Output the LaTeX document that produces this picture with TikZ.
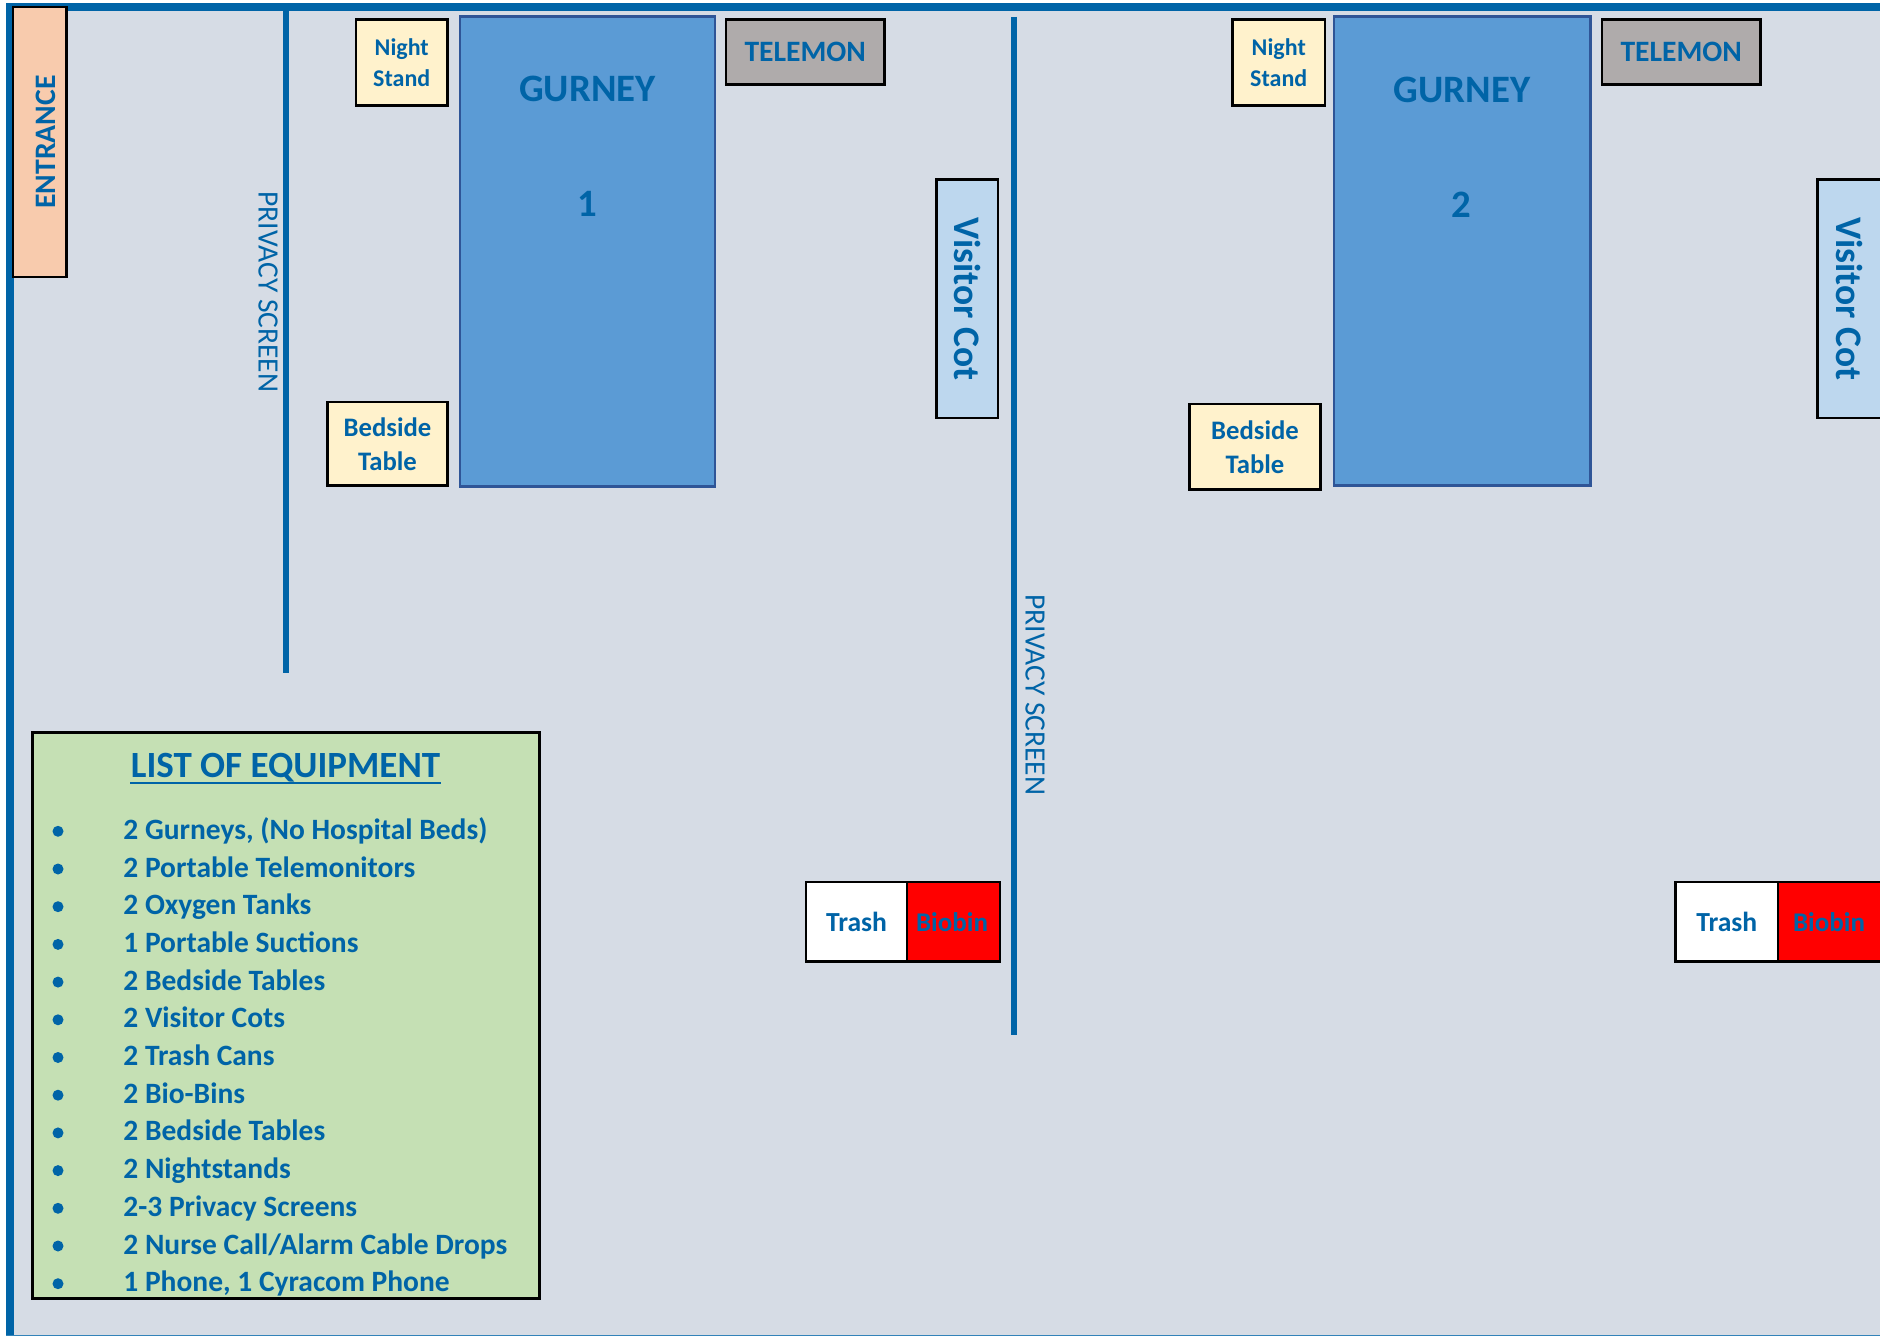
\documentclass[tikz,border=0pt]{standalone}
\usepackage{fontspec}
\setmainfont{Carlito}
\definecolor{wall}{HTML}{0064A7}
\definecolor{floorc}{HTML}{D6DCE5}
\definecolor{gurneyc}{HTML}{5B9BD5}
\definecolor{gurneyb}{HTML}{2F5597}
\definecolor{cotc}{HTML}{BDD7EE}
\definecolor{yellowc}{HTML}{FFF2CC}
\definecolor{greyc}{HTML}{AFABAB}
\definecolor{entc}{HTML}{F8CBAD}
\definecolor{listc}{HTML}{C5E0B4}
\newcommand{\pxfont}[2]{\fontsize{\dimexpr#1pt/2\relax}{\dimexpr#2pt/2\relax}\selectfont}
\newcommand{\rbox}[7]{%
  \pgfmathsetmacro{\cx}{(#2+#4)/2}\pgfmathsetmacro{\cy}{(#3+#5)/2}%
  \pgfmathsetmacro{\bw}{(#4-#2)*0.5}\pgfmathsetmacro{\bh}{(#5-#3)*0.5}%
  \node[#6,minimum width=\bw pt,minimum height=\bh pt] (#1) at (\cx,\cy) {#7};}
\tikzset{
  x=0.5pt,y=-0.5pt,
  base/.style={inner sep=0pt,outer sep=0pt,text=wall,font=\bfseries,align=center,rectangle},
  blk/.style={base,draw=black,line width=1.25pt},
  stand/.style={blk,fill=yellowc,font=\bfseries\pxfont{24}{31}},
  btable/.style={blk,fill=yellowc,font=\bfseries\pxfont{26.7}{34}},
  tele/.style={blk,fill=greyc,font=\bfseries\pxfont{29.6}{34}},
  cot/.style={blk,line width=1.1pt,fill=cotc,font=\bfseries\pxfont{37.5}{40}},
  gurney/.style={base,draw=gurneyb,line width=1.4pt,fill=gurneyc},
  glabel/.style={inner sep=0pt,text=wall,font=\bfseries\pxfont{38.8}{44}},
  trash/.style={blk,fill=white,font=\bfseries\pxfont{27.6}{30}},
  bio/.style={blk,fill=red,font=\bfseries\pxfont{27}{30}},
  screenline/.style={draw=wall,line width=3pt},
  screenlabel/.style={inner sep=0pt,text=wall,rotate=-90,font=\pxfont{29.5}{34}},
  itemtxt/.style={inner sep=0pt,anchor=base west,text=wall,font=\bfseries\pxfont{29.5}{34}},
  bullet/.style={circle,fill=wall,inner sep=0pt,minimum size=5.5pt},
}
\begin{document}
\begin{tikzpicture}
\useasboundingbox (0,0) rectangle (1880,1336);
\fill[white] (0,0) rectangle (1880,1336);
\fill[floorc] (6,3) rectangle (1880,1335);
\draw[draw=wall!80!white,line width=0.6pt] (6,1335.4) -- (1880,1335.4);
% walls
\fill[wall] (6,3) rectangle (1880,11);
\fill[wall] (6,3) rectangle (14,1335);
\coordinate (s1a) at (286,11); \coordinate (s1b) at (286,673);
\coordinate (s2a) at (1014,17); \coordinate (s2b) at (1014,1035);
\draw[screenline] (s1a) -- (s1b);
\draw[screenline] (s2a) -- (s2b);
\node[screenlabel] (pl1) at (268,292) {PRIVACY SCREEN};
\node[screenlabel] (pl2) at (1035,695) {PRIVACY SCREEN};
% entrance
\rbox{ent}{13}{7}{66.5}{277}{blk,line width=1.1pt,fill=entc}{}
\node[inner sep=0pt,text=wall,rotate=90,font=\bfseries\pxfont{29.7}{34}] (entl) at (46,142) {ENTRANCE};
% room 1
\rbox{ns1}{356}{19.5}{447.5}{105.5}{stand}{\raisebox{-0.5pt}{Night}\\\raisebox{-0.5pt}{Stand}}
\rbox{g1}{460}{16.5}{715}{486.5}{gurney}{}
\node[glabel] (g1a) at (587.5,89) {GURNEY};
\node[glabel] (g1b) at (587,204) {1};
\rbox{tm1}{726}{19.5}{884.5}{84.5}{tele}{\raisebox{-1pt}{TELEMON}}
\rbox{cot1}{936.5}{179.5}{998}{418}{cot}{\rotatebox{-90}{Visitor Cot}}
\rbox{bt1}{327.5}{402}{447.5}{485.5}{btable}{Bedside\\Table}
\rbox{tr1}{806}{882}{907}{961.5}{trash}{\raisebox{-0.5pt}{Trash}}
\rbox{bb1}{907}{882}{1000}{961.5}{bio}{\raisebox{-0.5pt}{\hspace{-1.5pt}Biobin}}
% room 2
\rbox{ns2}{1232.5}{19.5}{1325}{105.5}{stand}{\raisebox{-0.5pt}{Night}\\\raisebox{-0.5pt}{Stand}}
\rbox{g2}{1334}{16.5}{1590.5}{485.5}{gurney}{}
\node[glabel] (g2a) at (1462,89.5) {GURNEY};
\node[glabel] (g2b) at (1461,205) {2};
\rbox{tm2}{1602}{19.5}{1760.5}{84.5}{tele}{\raisebox{-1pt}{TELEMON}}
\rbox{cot2}{1817.5}{179.5}{1882}{418}{cot}{\rotatebox{-90}{Visitor Cot}}
\rbox{bt2}{1189.5}{404}{1320.5}{489.5}{btable}{Bedside\\Table}
\rbox{tr2}{1675.5}{882}{1778}{961.5}{trash}{\raisebox{-0.5pt}{Trash}}
\rbox{bb2}{1778}{882}{1882}{961.5}{bio}{\raisebox{-0.5pt}{\hspace{-1pt}Biobin}}
% list
\rbox{list}{32.5}{732.5}{539.5}{1298.5}{blk,line width=1.1pt,fill=listc}{}
\node[inner sep=0pt,text=wall,font=\bfseries\pxfont{37}{42}] (listh) at (285.5,768) {LIST OF EQUIPMENT};
\draw[wall,line width=1.1pt] ([yshift=-2.4pt]listh.base west) -- ([yshift=-2.4pt]listh.base east);
\foreach \i/\t in {0/{2 Gurneys, (No Hospital Beds)},1/{2 Portable Telemonitors},2/{2 Oxygen Tanks},3/{1 Portable Suctions},4/{2 Bedside Tables},5/{2 Visitor Cots},6/{2 Trash Cans},7/{2 Bio-Bins},8/{2 Bedside Tables},9/{2 Nightstands},10/{2-3 Privacy Screens},11/{2 Nurse Call/Alarm Cable Drops},12/{1 Phone, 1 Cyracom Phone}}{
  \pgfmathsetmacro{\by}{839.3+37.7*\i}
  \node[bullet] (b\i) at (58,\by-8) {};
  \node[itemtxt] (it\i) at (123,\by) {\t};
}
\end{tikzpicture}
\end{document}
